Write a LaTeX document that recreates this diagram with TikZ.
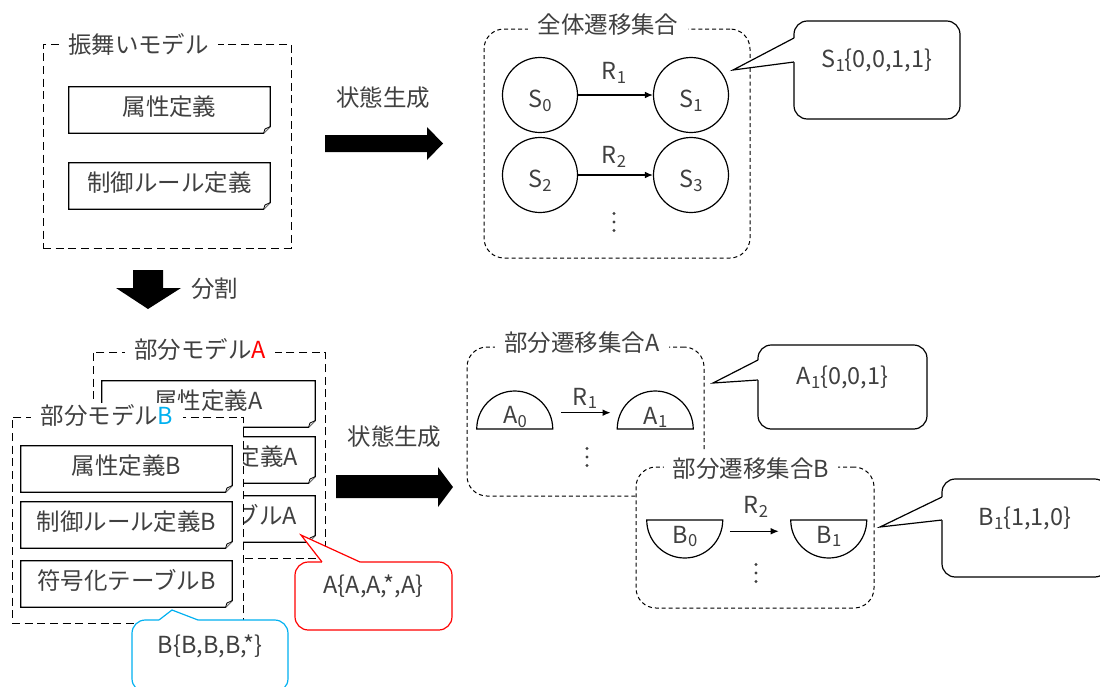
\documentclass[tikz,border=0pt]{standalone}
\usepackage{fontspec}
\setmainfont{Noto Sans CJK JP}
\usetikzlibrary{calc,fit,arrows.meta}
\definecolor{ink}{HTML}{404040}
\definecolor{markred}{HTML}{FF0000}
\definecolor{markblue}{HTML}{00B0F0}
% lowered small index, e.g. S_0
\newcommand\lo[1]{\raisebox{-2.5pt}{\fontsize{12.5pt}{12.5pt}\selectfont #1}}

\tikzset{
  every node/.style={font=\fontsize{17.6pt}{21pt}\selectfont, text=ink},
  modelbox/.style={draw, line width=0.75pt, dash pattern=on 6pt off 3.5pt, inner sep=0pt},
  setbox/.style={draw, line width=0.75pt, dash pattern=on 3pt off 2.2pt, rounded corners=15pt, inner sep=0pt},
  ttl/.style={fill=white, inner xsep=7pt, inner ysep=1pt},
  docbg/.style={fill=white, inner sep=0pt},
  docline/.style={line width=0.9pt, line join=miter},
  stnode/.style={circle, draw, line width=0.9pt, minimum size=56.25pt, inner sep=0pt, text height=19pt, text depth=0pt},
  halfbox/.style={minimum width=57pt, minimum height=28.5pt, inner sep=0pt},
  stateline/.style={line width=0.9pt},
  flow/.style={-{Latex[length=6pt,width=5pt]}, line width=0.9pt},
  lbl/.style={inner sep=0pt},
  bigarrow/.style={fill=black},
  callbox/.style={draw, line width=0.9pt, rounded corners=10pt, fill=white, inner sep=0pt},
  callline/.style={line width=0.9pt, line join=miter},
  dotmark/.style={fill=ink},
}

% document sheet with a folded lower right corner
\newcommand\docbox[6]{%
  \node[docbg, fit={(#2,#3) (#4,#5)}] (#1) {};
  \draw[docline] (#1.north west) -- (#1.north east) -- ([yshift=5pt]#1.south east)
     -- ([xshift=-5pt]#1.south east) -- (#1.south west) -- cycle;
  \draw[docline, line width=0.6pt, fill=black!15] ([xshift=-5pt]#1.south east)
     -- ([xshift=-4pt,yshift=3.2pt]#1.south east) -- ([yshift=5pt]#1.south east);
  \node[lbl] (#1-t) at ([yshift=2.5pt]#1.center) {#6};}

% half state, flat side down
\newcommand\domestate[4]{%
  \node[halfbox, anchor=south] (#1) at (#2,#3) {};
  \draw[stateline] (#1.south west) arc[start angle=180, end angle=0, radius=28.5pt] -- cycle;
  \node[lbl] (#1-t) at ([yshift=-5.5pt]#1.center) {#4};}

% half state, flat side up
\newcommand\bowlstate[4]{%
  \node[halfbox, anchor=north] (#1) at (#2,#3) {};
  \draw[stateline] (#1.north west) arc[start angle=180, end angle=360, radius=28.5pt] -- cycle;
  \node[lbl] (#1-t) at ([yshift=2.2pt]#1.center) {#4};}

% vertical ellipsis
\newcommand\vdotsat[3]{%
  \coordinate (#1) at (#2,#3);
  \foreach \d in {-8.5,0,8.5} \fill[dotmark] ($(#1)+(0,\d)$) circle[radius=1.3pt];}

% speech bubble pointer: colour, base a, base b, tip, inward offset
\newcommand\pointer[6]{%
  \fill[white] (#2) -- (#4) -- (#3) -- ($(#3)+(#5,#6)$) -- ($(#2)+(#5,#6)$) -- cycle;
  \draw[callline, draw=#1] (#2) -- (#4) -- (#3);}

\begin{document}
\begin{tikzpicture}[x=0.75pt, y=-0.75pt]
\useasboundingbox (0,0) rectangle (1100,686);

% behaviour model
\node[modelbox, fit={(43,44) (291,248)}] (beh) {};
\node[ttl] (beh-t) at (138.5,44) {振舞いモデル};
\docbox{attr}{69}{87}{270}{133}{属性定義}
\docbox{ctrl}{69}{163}{270}{209}{制御ルール定義}

% state generation (whole model)
\fill[bigarrow] (325,135) -- (427,135) -- (427,127) -- (443,143.5) -- (427,160) -- (427,152) -- (325,152) -- cycle;
\node[lbl] (gen1) at (383,97.5) {状態生成};

% whole transition set
\node[setbox, fit={(484,29) (750,258)}] (whole) {};
\node[ttl] (whole-t) at (608,25) {全体遷移集合};
\node[stnode] (S0) at (540,95) {S\lo0};
\node[stnode] (S1) at (691,95) {S\lo1};
\node[stnode] (S2) at (540,175) {S\lo2};
\node[stnode] (S3) at (691,175) {S\lo3};
\draw[flow] (S0) -- (S1);
\node[lbl] (r1) at (614,73) {R\lo1};
\draw[flow] (S2) -- (S3);
\node[lbl] (r2) at (614,157) {R\lo2};
\vdotsat{wdots}{614}{222}

% split
\fill[bigarrow] (133,270) -- (163,270) -- (163,288) -- (181,288) -- (148,309) -- (116,288) -- (133,288) -- cycle;
\node[lbl] (split) at (214.5,289) {分割};

% partial model A
\node[modelbox, fit={(93,352) (325,558)}] (pmA) {};
\node[ttl] (pmA-t) at (200,349.5) {部分モデル\textcolor{markred}{A}};
\docbox{attrA}{102}{381}{315}{427}{属性定義A}
\docbox{ctrlA}{102}{437}{315}{483}{制御ルール定義A}
\docbox{codeA}{102}{496}{315}{542}{符号化テーブルA}

% partial model B
\node[modelbox, fill=white, fit={(12,417) (243,623)}] (pmB) {};
\node[ttl] (pmB-t) at (107,415) {部分モデル\textcolor{markblue}{B}};
\docbox{attrB}{21}{446}{232}{492}{属性定義B}
\docbox{ctrlB}{21}{502}{232}{548}{制御ルール定義B}
\docbox{codeB}{21}{561}{232}{607}{符号化テーブルB}

% state generation (partial models)
\fill[bigarrow] (336,475) -- (438,475) -- (438,467) -- (453,487) -- (438,507) -- (438,498) -- (336,498) -- cycle;
\node[lbl] (gen2) at (394.5,436.5) {状態生成};

% partial transition set A
\node[setbox, fit={(467,347) (704,496)}] (subA) {};
\node[ttl] (subA-t) at (582,343) {部分遷移集合A};
\domestate{A0}{515}{429}{A\lo0}
\domestate{A1}{655.5}{429}{A\lo1}
\draw[flow, shorten <=6pt, shorten >=5pt] ([yshift=-2.2pt]A0.east) -- ([yshift=-2.2pt]A1.west);
\node[lbl] (ra) at (585,398.5) {R\lo1};
\vdotsat{adots}{587}{457}

% partial transition set B
\node[setbox, fill=white, fit={(636,467) (874,608)}] (subB) {};
\node[ttl, inner ysep=6pt] (subB-t) at (751,469) {部分遷移集合B};
\bowlstate{B0}{685}{520}{B\lo0}
\bowlstate{B1}{829}{520}{B\lo1}
\draw[flow, shorten <=5pt, shorten >=9pt] ([yshift=6pt]B0.east) -- ([yshift=6pt]B1.west);
\node[lbl] (rb) at (756,507) {R\lo2};
\vdotsat{bdots}{756}{573}

% speech bubbles
\node[callbox, fit={(794,21) (960,119)}] (cS1) {S\lo1\{0,0,1,1\}};
\coordinate (cS1a) at (794,38);
\coordinate (cS1b) at (794,62);
\coordinate (cS1tip) at (733,70);
\pointer{black}{cS1a}{cS1b}{cS1tip}{2}{0}

\node[callbox, fit={(758,345) (927,429)}] (cA1) {A\lo1\{0,0,1\}};
\coordinate (cA1a) at (758,360);
\coordinate (cA1b) at (758,380);
\coordinate (cA1tip) at (713,383);
\pointer{black}{cA1a}{cA1b}{cA1tip}{2}{0}

\node[callbox, fit={(942,479) (1108,577)}] (cB1) {B\lo1\{1,1,0\}};
\coordinate (cB1a) at (942,497);
\coordinate (cB1b) at (942,520);
\coordinate (cB1tip) at (880,527);
\pointer{black}{cB1a}{cB1b}{cB1tip}{2}{0}

\node[callbox, draw=markred, fit={(295,562) (452,630)}] (cA) {A\{A,A,*,A\}};
\coordinate (cAa) at (322,562);
\coordinate (cAb) at (360,562);
\coordinate (cAtip) at (301,535);
\pointer{markred}{cAa}{cAb}{cAtip}{0}{2}

\node[callbox, draw=markblue, fit={(132,620) (288,692)}] (cB) {B\{B,B,B,*\}};
\coordinate (cBa) at (159,620);
\coordinate (cBb) at (198,620);
\coordinate (cBtip) at (172,610);
\pointer{markblue}{cBa}{cBb}{cBtip}{0}{2}

\end{tikzpicture}
\end{document}
